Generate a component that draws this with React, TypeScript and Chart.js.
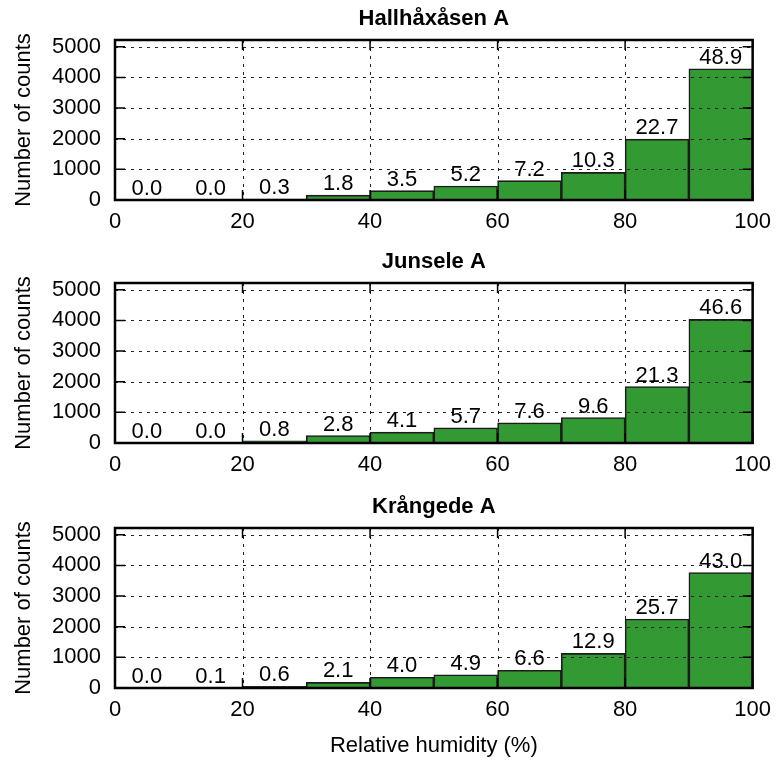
import React, { useEffect, useRef } from 'react';
import { Chart, registerables } from 'chart.js';

Chart.register(...registerables);

// ---- data ----
const binCenters = [5, 15, 25, 35, 45, 55, 65, 75, 85, 95];
const xTicks = [0, 20, 40, 60, 80, 100];
const yTicks = [0, 1000, 2000, 3000, 4000, 5000];
const stationNames = ['Hallhåxåsen A', 'Junsele A', 'Krångede A'];

const hallhaxasenCounts = [0, 0, 26, 158, 306, 455, 630, 901, 1986, 4279];
const hallhaxasenPercent = ['0.0', '0.0', '0.3', '1.8', '3.5', '5.2', '7.2', '10.3', '22.7', '48.9'];

const junseleCounts = [0, 0, 69, 242, 355, 493, 657, 830, 1842, 4031];
const junselePercent = ['0.0', '0.0', '0.8', '2.8', '4.1', '5.7', '7.6', '9.6', '21.3', '46.6'];

const krangedeCounts = [0, 9, 53, 184, 350, 429, 578, 1130, 2251, 3767];
const krangedePercent = ['0.0', '0.1', '0.6', '2.1', '4.0', '4.9', '6.6', '12.9', '25.7', '43.0'];

const yMax = 5220;
const xLabel = 'Relative humidity (%)';
const yLabel = 'Number of counts';

// ---- layout ----
const W = 780;
const H = 762;
const PLOT_LEFT = 115;
const PLOT_RIGHT = 762;
const PLOT_H = 160;
const X_AXIS_H = 40;
const panelTops = [40, 283, 528];
const FONT = '"Liberation Sans", Arial, Helvetica, sans-serif';
const FS = 22;

Chart.defaults.font.family = FONT;

function makeDecor(pct: string[], title: string, showX: boolean) {
  return {
    id: 'decor',
    afterDatasetsDraw(chart: any) {
      const { ctx, chartArea: a, scales } = chart;
      const x = scales.x;
      const y = scales.y;
      ctx.save();
      // dotted grid (above bars, like the reference)
      ctx.strokeStyle = '#222';
      ctx.lineWidth = 1;
      ctx.setLineDash([3, 5]);
      for (const v of yTicks) {
        if (v === 0) continue;
        const py = Math.round(y.getPixelForValue(v)) + 0.5;
        ctx.beginPath();
        ctx.moveTo(a.left, py);
        ctx.lineTo(a.right, py);
        ctx.stroke();
      }
      for (const v of xTicks) {
        if (v === 0 || v === 100) continue;
        const px = Math.round(x.getPixelForValue(v)) + 0.5;
        ctx.beginPath();
        ctx.moveTo(px, a.top);
        ctx.lineTo(px, a.bottom);
        ctx.stroke();
      }
      ctx.setLineDash([]);
      // inward tick marks
      ctx.strokeStyle = '#000';
      ctx.lineWidth = 1.5;
      const TL = 10;
      for (const v of yTicks) {
        const py = y.getPixelForValue(v);
        ctx.beginPath();
        ctx.moveTo(a.left, py);
        ctx.lineTo(a.left + TL, py);
        ctx.moveTo(a.right, py);
        ctx.lineTo(a.right - TL, py);
        ctx.stroke();
      }
      for (const v of xTicks) {
        const px = x.getPixelForValue(v);
        ctx.beginPath();
        ctx.moveTo(px, a.bottom);
        ctx.lineTo(px, a.bottom - TL);
        ctx.moveTo(px, a.top);
        ctx.lineTo(px, a.top + TL);
        ctx.stroke();
      }
      // frame
      ctx.lineWidth = 2.5;
      ctx.strokeRect(a.left, a.top, a.right - a.left, a.bottom - a.top);
      // percentage labels
      ctx.fillStyle = '#000';
      ctx.font = `${FS}px ${FONT}`;
      ctx.textAlign = 'center';
      ctx.textBaseline = 'alphabetic';
      const meta = chart.getDatasetMeta(0);
      meta.data.forEach((el: any, i: number) => {
        ctx.fillText(pct[i], el.x, el.y - 5);
      });
      // panel title
      ctx.font = `bold 22px ${FONT}`;
      ctx.fillText(title, (a.left + a.right) / 2, a.top - 15);
      // y label
      ctx.font = `${FS}px ${FONT}`;
      ctx.save();
      ctx.translate(24, (a.top + a.bottom) / 2);
      ctx.rotate(-Math.PI / 2);
      ctx.textBaseline = 'middle';
      ctx.fillText(yLabel, 0, 0);
      ctx.restore();
      // x label
      if (showX) {
        ctx.textBaseline = 'alphabetic';
        ctx.fillText(xLabel, (a.left + a.right) / 2, a.bottom + 64);
      }
      ctx.restore();
    },
  };
}

type PanelProps = {
  counts: number[];
  pct: string[];
  title: string;
  top: number;
  showX: boolean;
};

function Panel({ counts, pct, title, top, showX }: PanelProps) {
  const ref = useRef<HTMLCanvasElement>(null);
  useEffect(() => {
    const canvas = ref.current;
    if (!canvas) return;
    const chart = new Chart(canvas, {
      type: 'bar',
      data: {
        datasets: [
          {
            data: binCenters.map((c, i) => ({ x: c, y: counts[i] })),
            backgroundColor: '#339933',
            borderColor: '#1c1c1c',
            borderWidth: 1.6,
            barPercentage: 1,
            categoryPercentage: 1,
          },
        ],
      },
      options: {
        responsive: false,
        animation: false,
        devicePixelRatio: 1,
        layout: {
          padding: {
            left: 0,
            right: W - PLOT_RIGHT,
            top: top,
            bottom: H - (top + PLOT_H) - X_AXIS_H,
          },
        },
        plugins: {
          legend: { display: false },
          tooltip: { enabled: false },
          title: { display: false },
        },
        scales: {
          x: {
            type: 'linear',
            min: 0,
            max: 100,
            offset: false,
            grid: { display: false, drawTicks: false, offset: false },
            border: { display: false },
            afterBuildTicks: (s: any) => {
              s.ticks = xTicks.map((v) => ({ value: v }));
            },
            ticks: {
              font: { size: FS },
              color: '#000',
              padding: 9,
              maxRotation: 0,
              autoSkip: false,
              callback: (v: any) => String(v),
            },
            afterFit: (s: any) => {
              s.height = X_AXIS_H;
            },
          },
          y: {
            type: 'linear',
            min: 0,
            max: yMax,
            grid: { display: false, drawTicks: false },
            border: { display: false },
            afterBuildTicks: (s: any) => {
              s.ticks = yTicks.map((v) => ({ value: v }));
            },
            ticks: {
              font: { size: FS },
              color: '#000',
              padding: 14,
              autoSkip: false,
              callback: (v: any) => String(v),
            },
            afterFit: (s: any) => {
              s.width = PLOT_LEFT;
            },
          },
        },
      } as any,
      plugins: [makeDecor(pct, title, showX)],
    });
    return () => chart.destroy();
  }, []);
  return (
    <canvas
      ref={ref}
      width={W}
      height={H}
      style={{ position: 'absolute', left: 0, top: 0, width: W, height: H }}
    />
  );
}

export default function App() {
  return (
    <div
      style={{
        position: 'fixed',
        left: 0,
        top: 0,
        width: W,
        height: H,
        background: '#fff',
      }}
    >
      <Panel counts={hallhaxasenCounts} pct={hallhaxasenPercent} title={stationNames[0]} top={panelTops[0]} showX={false} />
      <Panel counts={junseleCounts} pct={junselePercent} title={stationNames[1]} top={panelTops[1]} showX={false} />
      <Panel counts={krangedeCounts} pct={krangedePercent} title={stationNames[2]} top={panelTops[2]} showX={true} />
    </div>
  );
}
